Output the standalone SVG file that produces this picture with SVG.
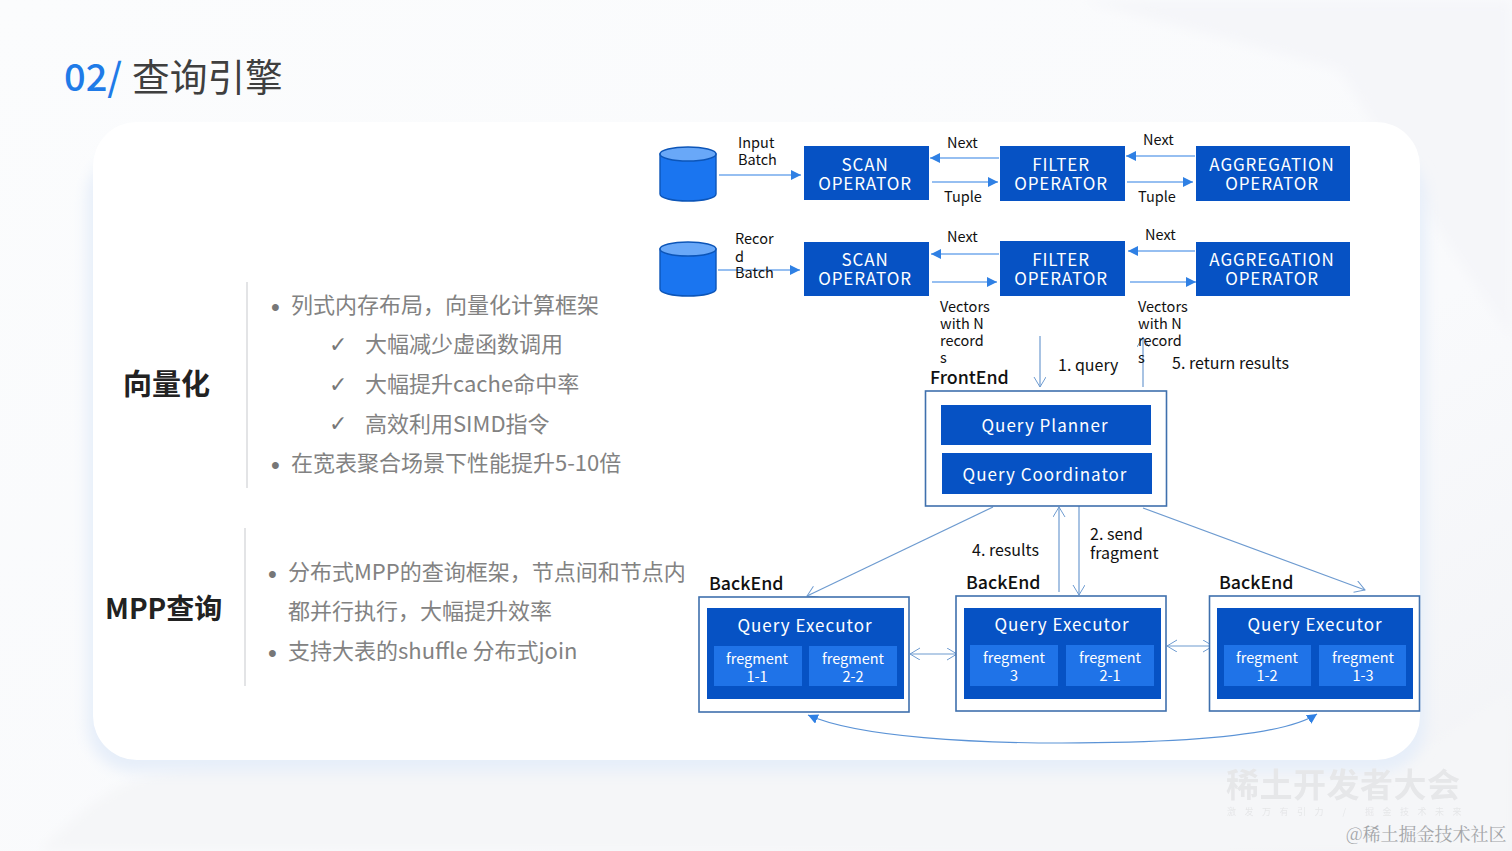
<svg xmlns="http://www.w3.org/2000/svg" width="1512" height="851" viewBox="0 0 1512 851">
<defs>
<linearGradient id="bg" x1="0" y1="0" x2="1" y2="1"><stop offset="0" stop-color="#fbfcfd"/><stop offset="0.65" stop-color="#f9fafc"/><stop offset="1" stop-color="#f2f3f6"/></linearGradient>
<filter id="sh" x="-5%" y="-8%" width="110%" height="116%"><feGaussianBlur stdDeviation="7"/></filter>
<filter id="bl" x="-10%" y="-10%" width="120%" height="120%"><feGaussianBlur stdDeviation="6"/></filter>
<filter id="soft" x="-20%" y="-20%" width="140%" height="140%"><feGaussianBlur stdDeviation="0.7"/></filter>
<marker id="fa" markerWidth="12" markerHeight="12" refX="10" refY="5" orient="auto-start-reverse" markerUnits="userSpaceOnUse"><path d="M0 0L10 5L0 10z" fill="#2f80e4"/></marker>
<marker id="oa" markerWidth="14" markerHeight="14" refX="11" refY="6" orient="auto-start-reverse" markerUnits="userSpaceOnUse"><path d="M1 0L11 6L1 12" fill="none" stroke="#6e9bd0" stroke-width="1"/></marker>
</defs>
<style>
text{font-family:"Noto Sans CJK SC","Noto Sans",sans-serif}
.blue{fill:#0652c4}.frag{fill:#1f73e8}
.w{fill:#fff;text-anchor:middle}
.op{font-size:17px;letter-spacing:0.9px}
.q{font-size:17px;letter-spacing:1px}
.f{font-size:14.5px}
.k{fill:#111;font-size:14.5px}
.k2{fill:#111;font-size:16px}
.h{fill:#111;font-size:17.800px;font-weight:500}
.g{fill:#828282;font-size:22px}
.b{fill:#777;font-size:25px;font-family:"Liberation Sans",sans-serif}
.c{fill:#777;font-size:22px;font-family:"DejaVu Sans",sans-serif}
.fl{stroke:#2f80e4;stroke-width:1.2;fill:none;marker-end:url(#fa)}
.ol{stroke:#6e9bd0;stroke-width:1.2;fill:none}
.box{fill:#fff;stroke:#3f70ad;stroke-width:1.6}
.cy{fill:#1a75f0;stroke:#0c55b8;stroke-width:1.4}
.cyt{fill:#69a8f8;stroke:#0c55b8;stroke-width:1.4}
.sep{stroke:#d0d2d5;stroke-width:1.2}
</style>
<rect width="1512" height="851" fill="url(#bg)"/>
<path d="M1080 0L1512 0V340L1425 210L1340 70z" fill="#f5f6f9" filter="url(#bl)"/>
<path d="M40 851C100 790 130 775 200 765H1400L1512 690V851z" fill="#f5f6f8" filter="url(#bl)"/>
<rect x="87" y="150" width="1339" height="622" rx="48" fill="#e6eef9" filter="url(#sh)"/>
<rect x="93" y="122" width="1327" height="638" rx="44" fill="#fff"/>

<g id="title"><text x="64" y="91" font-size="38" font-weight="500" fill="#1f7be8">02/</text><text x="132" y="91" font-size="37.700" fill="#3f3f3f">查询引擎</text></g>

<g id="section-vector">
<text x="123" y="395" font-size="29" font-weight="700" fill="#222">向量化</text>
<line class="sep" x1="247" y1="282" x2="247" y2="488"/>
<text class="b" x="271" y="316">•</text><text class="g" x="291" y="313">列式内存布局，向量化计算框架</text>
<text class="c" x="329" y="352">✓</text><text class="g" x="365" y="352">大幅减少虚函数调用</text>
<text class="c" x="329" y="392">✓</text><text class="g" x="365" y="392">大幅提升cache命中率</text>
<text class="c" x="329" y="431">✓</text><text class="g" x="365" y="432">高效利用SIMD指令</text>
<text class="b" x="271" y="474">•</text><text class="g" x="291" y="471">在宽表聚合场景下性能提升5-10倍</text>
</g>
<g id="section-mpp">
<text x="105" y="619" font-size="28" font-weight="700" fill="#222">MPP查询</text>
<line class="sep" x1="245" y1="528" x2="245" y2="686"/>
<text class="b" x="268" y="583">•</text><text class="g" x="288" y="580">分布式MPP的查询框架，节点间和节点内</text>
<text class="g" x="288" y="619">都并行执行，大幅提升效率</text>
<text class="b" x="268" y="662">•</text><text class="g" x="288" y="659">支持大表的shuffle 分布式join</text>
</g>

<g id="connectors">
<line class="fl" x1="719" y1="175" x2="801" y2="175"/>
<line class="fl" x1="999" y1="158" x2="930" y2="158"/>
<line class="fl" x1="932" y1="182" x2="998" y2="182"/>
<line class="fl" x1="1195" y1="156" x2="1126" y2="156"/>
<line class="fl" x1="1127" y1="182" x2="1193" y2="182"/>
<line class="fl" x1="718" y1="270" x2="800" y2="270"/>
<line class="fl" x1="999" y1="254" x2="931" y2="254"/>
<line class="fl" x1="932" y1="282" x2="997" y2="282"/>
<line class="fl" x1="1195" y1="251" x2="1128" y2="251"/>
<line class="fl" x1="1130" y1="282" x2="1196" y2="282"/>
<line class="ol" x1="1040" y1="336" x2="1040" y2="387" marker-end="url(#oa)"/>
<line class="ol" x1="1143" y1="387" x2="1143" y2="337" marker-end="url(#oa)"/>
<line class="ol" x1="993" y1="507" x2="807" y2="596" marker-end="url(#oa)"/>
<line class="ol" x1="1059" y1="592" x2="1059" y2="507" marker-end="url(#oa)"/>
<line class="ol" x1="1079" y1="506" x2="1079" y2="595" marker-end="url(#oa)"/>
<line class="ol" x1="1143" y1="508" x2="1365" y2="590" marker-end="url(#oa)"/>
<line class="ol" x1="910" y1="654" x2="957" y2="654" marker-start="url(#oa)" marker-end="url(#oa)"/>
<line class="ol" x1="1167" y1="646" x2="1213" y2="646" marker-start="url(#oa)" marker-end="url(#oa)"/>
<path d="M808 715C860 738 980 743 1062 743C1160 743 1280 738 1317 714" fill="none" stroke="#5b93d6" stroke-width="1.2" marker-start="url(#fa)" marker-end="url(#fa)"/>
</g>

<g id="db1"><path class="cy" d="M660 154V194C660 198 672 201 688 201C704 201 716 198 716 194V154z"/><ellipse class="cyt" cx="688" cy="154" rx="28" ry="7"/></g>
<g id="db2"><path class="cy" d="M660 249V289C660 293 672 296 688 296C704 296 716 293 716 289V249z"/><ellipse class="cyt" cx="688" cy="249" rx="28" ry="7"/></g>

<g id="scan1"><rect class="blue" x="804" y="146" width="125" height="54"/><text class="w op" x="865" y="171">SCAN</text><text class="w op" x="865" y="190">OPERATOR</text></g>
<g id="filter1"><rect class="blue" x="1000" y="146" width="125" height="55"/><text class="w op" x="1061" y="171">FILTER</text><text class="w op" x="1061" y="190">OPERATOR</text></g>
<g id="agg1"><rect class="blue" x="1196" y="146" width="154" height="55"/><text class="w op" x="1272" y="171">AGGREGATION</text><text class="w op" x="1272" y="190">OPERATOR</text></g>
<g id="scan2"><rect class="blue" x="804" y="242" width="125" height="54"/><text class="w op" x="865" y="266">SCAN</text><text class="w op" x="865" y="285">OPERATOR</text></g>
<g id="filter2"><rect class="blue" x="1000" y="241" width="125" height="55"/><text class="w op" x="1061" y="266">FILTER</text><text class="w op" x="1061" y="285">OPERATOR</text></g>
<g id="agg2"><rect class="blue" x="1196" y="242" width="154" height="54"/><text class="w op" x="1272" y="266">AGGREGATION</text><text class="w op" x="1272" y="285">OPERATOR</text></g>

<g id="labels">
<text class="k" x="738" y="148">Input</text><text class="k" x="738" y="165">Batch</text>
<text class="k" x="947" y="148">Next</text><text class="k" x="944" y="202">Tuple</text>
<text class="k" x="1143" y="145">Next</text><text class="k" x="1138" y="202">Tuple</text>
<text class="k" x="735" y="244">Recor</text><text class="k" x="735" y="262">d</text><text class="k" x="735" y="278">Batch</text>
<text class="k" x="947" y="242">Next</text><text class="k" x="1145" y="240">Next</text>
<text class="k" x="940" y="312">Vectors</text><text class="k" x="940" y="329">with N</text><text class="k" x="940" y="346">record</text><text class="k" x="940" y="363">s</text>
<text class="k" x="1138" y="312">Vectors</text><text class="k" x="1138" y="329">with N</text><text class="k" x="1138" y="346">record</text><text class="k" x="1138" y="363">s</text>
<text class="k2" x="1058" y="371">1. query</text><text class="k2" x="1172" y="369">5. return results</text>
<text class="k2" x="972" y="556">4. results</text><text class="k2" x="1090" y="540">2. send</text><text class="k2" x="1090" y="559">fragment</text>
</g>

<g id="frontend"><text class="h" x="930" y="384">FrontEnd</text><rect class="box" x="925.500" y="391" width="241" height="115"/>
<rect class="blue" x="941" y="405" width="210" height="40"/><text class="w q" x="1045" y="432">Query Planner</text>
<rect class="blue" x="942" y="453" width="210" height="41"/><text class="w q" x="1045" y="481">Query Coordinator</text></g>

<g id="backend1"><text class="h" x="709" y="590">BackEnd</text><rect class="box" x="699" y="597" width="210" height="115"/><rect class="blue" x="707" y="608" width="197" height="91"/><text class="w q" x="805" y="632">Query Executor</text>
<rect class="frag" x="714" y="646" width="88" height="40"/><text class="w f" x="757" y="664">fregment</text><text class="w f" x="757" y="682">1-1</text>
<rect class="frag" x="809" y="646" width="88" height="40"/><text class="w f" x="853" y="664">fregment</text><text class="w f" x="853" y="682">2-2</text></g>
<g id="backend2"><text class="h" x="966" y="589">BackEnd</text><rect class="box" x="956" y="596" width="210" height="115"/><rect class="blue" x="964" y="608" width="197" height="91"/><text class="w q" x="1062" y="631">Query Executor</text>
<rect class="frag" x="970" y="645" width="88" height="41"/><text class="w f" x="1014" y="663">fregment</text><text class="w f" x="1014" y="681">3</text>
<rect class="frag" x="1066" y="645" width="88" height="41"/><text class="w f" x="1110" y="663">fregment</text><text class="w f" x="1110" y="681">2-1</text></g>
<g id="backend3"><text class="h" x="1219" y="589">BackEnd</text><rect class="box" x="1209.500" y="596" width="210" height="115"/><rect class="blue" x="1217" y="608" width="196" height="91"/><text class="w q" x="1315" y="631">Query Executor</text>
<rect class="frag" x="1224" y="645" width="87" height="41"/><text class="w f" x="1267" y="663">fregment</text><text class="w f" x="1267" y="681">1-2</text>
<rect class="frag" x="1319" y="645" width="87" height="41"/><text class="w f" x="1363" y="663">fregment</text><text class="w f" x="1363" y="681">1-3</text></g>

<g id="watermark">
<text x="1226" y="797" font-size="33" font-weight="700" fill="#e6e7e9" letter-spacing="0.5" filter="url(#soft)">稀土开发者大会</text>
<text x="1227" y="815" font-size="9" fill="#e6e7e9" letter-spacing="8.500" filter="url(#soft)">激发万有引力 / 掘金技术未来</text>
<text x="1346" y="841" font-size="18" fill="#a3a5a8" style="font-family:'Noto Serif CJK SC','Noto Sans CJK SC',serif">@稀土掘金技术社区</text>
</g>
</svg>
